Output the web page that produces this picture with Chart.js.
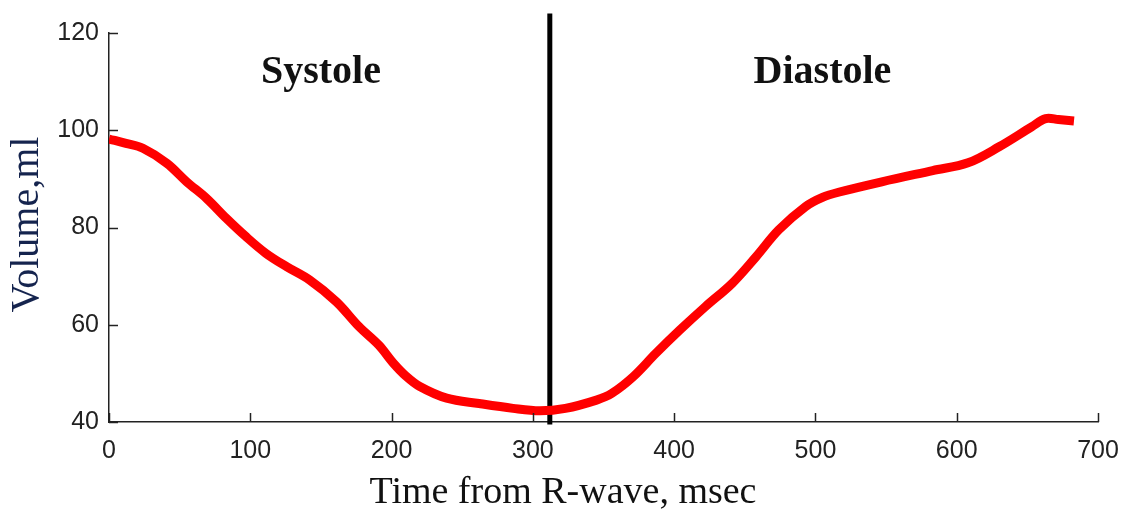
<!DOCTYPE html>
<html>
<head>
<meta charset="utf-8">
<script src="https://cdn.jsdelivr.net/npm/chart.js@4"></script>
<style>
  html, body { margin: 0; padding: 0; background: #fff; }
  #wrap { width: 1124px; height: 512px; }
</style>
</head>
<body>
<div id="wrap"><canvas id="volumeChart" width="1124" height="512"></canvas></div>
<script>
// time from R-wave (msec) and LV volume (ml)
const timeMs = [0, 12, 24, 41, 55, 69, 83, 97, 111, 126, 142, 161, 177, 191, 201, 210, 220, 239, 262, 286, 305, 323, 345, 356, 371, 387, 404, 422, 441, 458, 474, 493, 505, 517, 547, 583, 608, 630, 653, 663, 672, 683];
const volumeMl = [98.2, 97.3, 96.3, 93.2, 89.4, 86.0, 81.9, 78.1, 74.7, 71.9, 69.2, 64.7, 59.6, 55.8, 52.2, 49.5, 47.3, 44.9, 43.8, 42.8, 42.3, 42.8, 44.5, 45.9, 49.3, 54.1, 58.9, 63.7, 68.5, 74.0, 79.5, 84.3, 86.2, 87.3, 89.4, 91.7, 93.3, 96.6, 100.7, 102.4, 102.2, 101.9];

// end of systole marker
const markerTime = 312;
const markerRange = [39.5, 124];

// phase labels
const phaseLabels = ["Systole", "Diastole"];
const phaseTime = [150, 505];
const phaseVolume = 109.7;

const xTicks = [0, 100, 200, 300, 400, 500, 600, 700];
const yTicks = [40, 60, 80, 100, 120];

const xTitle = "Time from R-wave, msec";
const yTitle = "Volume,ml";

const axisColor = "#222";

// MATLAB-style inward ticks, phase labels and axis titles
const decorPlugin = {
  id: "decor",
  afterDraw(chart) {
    const ctx = chart.ctx;
    const x = chart.scales.x, y = chart.scales.y;
    const area = chart.chartArea;
    ctx.save();
    ctx.strokeStyle = axisColor;
    ctx.lineWidth = 1.5;
    xTicks.forEach(v => {
      const px = Math.round(x.getPixelForValue(v)) + 0.5;
      ctx.beginPath();
      ctx.moveTo(px, area.bottom);
      ctx.lineTo(px, area.bottom - 9);
      ctx.stroke();
    });
    yTicks.forEach(v => {
      const py = Math.round(y.getPixelForValue(v)) + 0.5;
      ctx.beginPath();
      ctx.moveTo(area.left, py);
      ctx.lineTo(area.left + 9, py);
      ctx.stroke();
    });

    ctx.fillStyle = "#111";
    ctx.font = "bold 40px 'Liberation Serif', 'Times New Roman', serif";
    ctx.textAlign = "center";
    ctx.textBaseline = "alphabetic";
    phaseLabels.forEach((t, i) => {
      ctx.fillText(t, x.getPixelForValue(phaseTime[i]), y.getPixelForValue(phaseVolume));
    });

    ctx.font = "38px 'Liberation Serif', 'Times New Roman', serif";
    ctx.fillStyle = "#111";
    ctx.fillText(xTitle, 563, 503);

    ctx.translate(38, (area.top + area.bottom) / 2 - 3);
    ctx.rotate(-Math.PI / 2);
    ctx.font = "40px 'Liberation Serif', 'Times New Roman', serif";
    ctx.fillStyle = "#15244e";
    ctx.fillText(yTitle, 0, 0);
    ctx.restore();
  }
};

const ctx = document.getElementById("volumeChart").getContext("2d");
new Chart(ctx, {
  type: "line",
  data: {
    datasets: [
      {
        label: "Volume",
        data: timeMs.map((t, i) => ({ x: t, y: volumeMl[i] })),
        borderColor: "#ff0000",
        borderWidth: 9,
        pointRadius: 0,
        tension: 0.35,
        fill: false,
      },
      {
        label: "End systole",
        data: markerRange.map(v => ({ x: markerTime, y: v })),
        borderColor: "#000",
        borderWidth: 5,
        pointRadius: 0,
        clip: false,
        fill: false,
      },
    ],
  },
  options: {
    responsive: false,
    animation: false,
    layout: { padding: { top: 33, right: 26, left: 0, bottom: 0 } },
    plugins: {
      legend: { display: false },
      tooltip: { enabled: false },
    },
    scales: {
      x: {
        type: "linear",
        min: 0,
        max: 700,
        afterFit: s => { s.height = 90; s.paddingLeft = 0; s.paddingRight = 0; },
        afterBuildTicks: s => { s.ticks = xTicks.map(v => ({ value: v })); },
        grid: { display: false, drawTicks: false },
        border: { display: true, color: axisColor, width: 1.5 },
        ticks: {
          padding: 14,
          color: "#222",
          font: { family: "'Liberation Sans', Arial, sans-serif", size: 25 },
        },
      },
      y: {
        type: "linear",
        min: 40,
        max: 120,
        afterFit: s => { s.width = 109; s.paddingTop = 0; s.paddingBottom = 0; },
        afterBuildTicks: s => { s.ticks = yTicks.map(v => ({ value: v })); },
        grid: { display: false, drawTicks: false },
        border: { display: true, color: axisColor, width: 1.5 },
        ticks: {
          padding: 10,
          color: "#222",
          font: { family: "'Liberation Sans', Arial, sans-serif", size: 25 },
        },
      },
    },
  },
  plugins: [decorPlugin],
});
</script>
</body>
</html>
